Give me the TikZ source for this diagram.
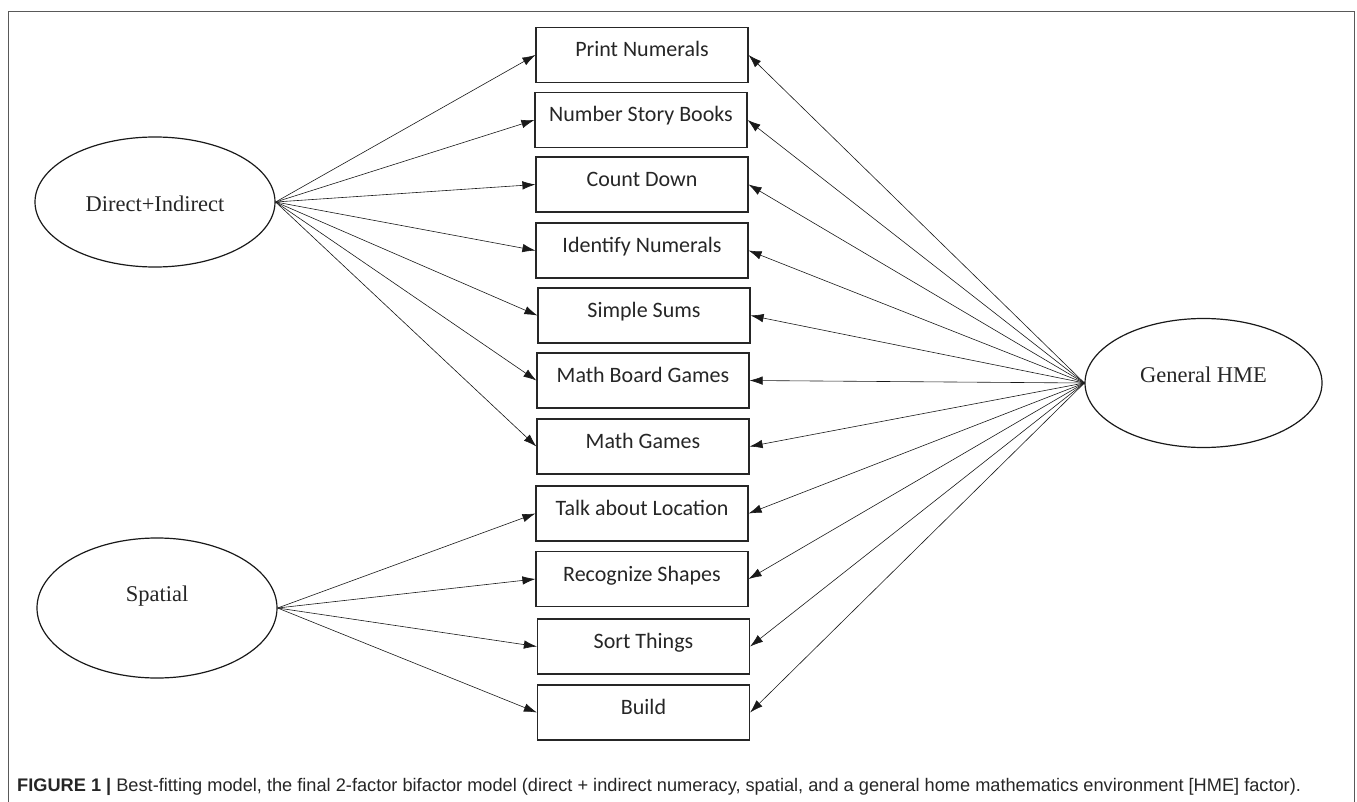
\documentclass[tikz,border=0pt]{standalone}
\usepackage{fontspec}
\setmainfont{Liberation Serif}
\newfontfamily\boxfont{Carlito}
\newfontfamily\capfont{Liberation Sans}
\usetikzlibrary{shapes.geometric,arrows.meta}

\begin{document}
\begin{tikzpicture}[x=1pt,y=-1pt,
  item/.style={draw=black!85, line width=1.2pt, minimum width=212pt,
    minimum height=55pt, inner sep=0pt, text=black!85,
    font=\boxfont\fontsize{22}{24}\selectfont,
    text height=15pt, text depth=11pt},
  factor/.style={ellipse, draw=black!90, line width=1.2pt, inner sep=0pt,
    minimum width=240pt},
  ftext/.style={font=\fontsize{22.5}{26}\selectfont, text=black!85,
    text height=15pt, text depth=0pt, inner sep=0pt},
  load/.style={-{Latex[length=13pt,width=8.5pt]}, line width=0.6pt, black!90}
]
\useasboundingbox (0,0) rectangle (1357,802);

% outer frame, open at the bottom
\draw[black!65, line width=0.9pt] (8,802) -- (8,11) -- (1354,11) -- (1354,802);

% observed indicators
\node[item] (b1)  at (642,55)    {Print Numerals};
\node[item] (b2)  at (641,120)   {Number Story Books};
\node[item] (b3)  at (642,184.5) {Count Down};
\node[item] (b4)  at (642,250.5) {Identify Numerals};
\node[item] (b5)  at (644,315.5) {Simple Sums};
\node[item] (b6)  at (643,380.5) {Math Board Games};
\node[item] (b7)  at (643,446.5) {Math Games};
\node[item] (b8)  at (642,513.5) {Talk about Location};
\node[item] (b9)  at (642,579)   {Recognize Shapes};
\node[item] (b10) at (643.5,646.5) {Sort Things};
\node[item] (b11) at (643.5,712.5) {Build};

% latent factors
\node[factor, minimum height=130pt,
  label={[ftext, yshift=-2pt, name=tdi]center:Direct+Indirect}] (di) at (155,202) {};
\node[factor, minimum height=140pt,
  label={[ftext, yshift=14pt, name=tsp]center:Spatial}] (sp) at (157,608) {};
\node[factor, minimum width=237pt, minimum height=129pt,
  label={[ftext, yshift=8.5pt, name=thme]center:General HME}] (hme) at (1203.5,383) {};

% specific factor loadings
\foreach \b in {b1,b2,b3,b4,b5,b6,b7}
  \draw[load] (di.east) -- (\b.west);
\foreach \b in {b8,b9,b10,b11}
  \draw[load] (sp.east) -- (\b.west);
% general factor loadings
\foreach \b in {b1,b2,b3,b4,b5,b6,b7,b8,b9,b10,b11}
  \draw[load] (hme.west) -- (\b.east);

% caption
\node[anchor=base west, inner sep=0pt, text=black!85,
  font=\capfont\fontsize{18.2}{20}\selectfont] (cap) at (17,791.5)
  {\textbf{FIGURE 1 |} Best-fitting model, the final 2-factor bifactor model (direct + indirect numeracy, spatial, and a general home mathematics environment [HME] factor).};
\end{tikzpicture}
\end{document}
